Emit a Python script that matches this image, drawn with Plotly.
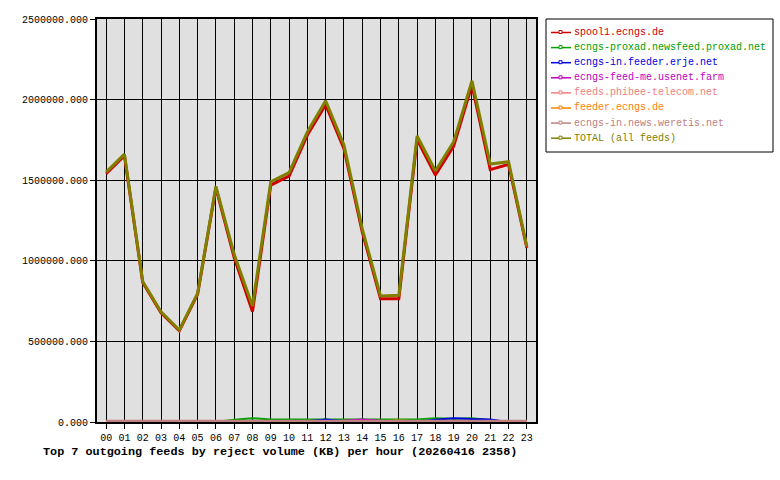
import plotly.graph_objects as go

hours = [f"{h:02d}" for h in range(24)]

spool1 = [1540000, 1652000, 866000, 678000, 566000, 793000, 1453000, 1020000,
          685000, 1470000, 1525000, 1780000, 1968000, 1695000, 1180000, 765000,
          765000, 1752000, 1532000, 1712000, 2090000, 1565000, 1598000, 1080000]
proxad = [0, 0, 0, 0, 0, 0, 0, 14000, 24000, 16000, 16000, 16000, 14000, 16000, 14000, 16000,
          16000, 16000, 24000, 20000, 24000, 12000, 0, 0]
erje = [0, 0, 0, 0, 0, 0, 0, 0, 0, 0, 0, 4000, 16000, 4000, 0, 0,
        0, 0, 14000, 24000, 18000, 16000, 0, 0]
feedme = [0, 0, 0, 0, 0, 0, 0, 0, 0, 0, 0, 0, 0, 8000, 16000, 8000,
          0, 0, 0, 0, 0, 0, 0, 0]
phibee = [3000, 6000, 3000, 3000, 6000, 3000, 6000, 3000, 3000, 3000, 3000, 3000, 3000, 3000, 3000, 3000,
          3000, 3000, 3000, 3000, 3000, 3000, 3000, 3000]
feeder = [0, 0, 0, 0, 0, 0, 0, 0, 0, 0, 0, 0, 0, 0, 0, 4000,
          10000, 4000, 0, 0, 0, 0, 0, 0]
weretis = [4000] * 24
total = [1550000, 1662000, 872000, 684000, 571000, 798000, 1462000, 1040000,
         720000, 1490000, 1547000, 1800000, 1993000, 1718000, 1200000, 782000,
         786000, 1774000, 1557000, 1739000, 2117000, 1600000, 1615000, 1088000]

names = ["spool1.ecngs.de", "ecngs-proxad.newsfeed.proxad.net", "ecngs-in.feeder.erje.net",
         "ecngs-feed-me.usenet.farm", "feeds.phibee-telecom.net", "feeder.ecngs.de",
         "ecngs-in.news.weretis.net", "TOTAL (all feeds)"]
colors = ["#d00000", "#00a000", "#0000e0", "#c000c0", "#f08080", "#ff8000", "#c08080", "#808000"]
series = [spool1, proxad, erje, feedme, phibee, feeder, weretis, total]
widths = [3, 2, 2, 2, 2, 2, 3, 3]

FONT = "Liberation Mono, DejaVu Sans Mono, monospace"

# plot area in pixels
L, R, T, B = 97, 536, 19, 422


def px(x):
    return (x - L) / (R - L)


def py(y):
    return (B - y) / (B - T)


fig = go.Figure()
for nm, col, vals, w in zip(names, colors, series, widths):
    fig.add_trace(go.Scatter(
        x=list(range(24)), y=vals, mode="lines", name=nm,
        line=dict(color=col, width=w), showlegend=False,
    ))

shapes = [dict(type="rect", xref="paper", yref="paper",
               x0=px(546), x1=px(773), y0=py(19), y1=py(152),
               line=dict(color="black", width=1), fillcolor="white", layer="above")]
annotations = []
for i, (nm, col) in enumerate(zip(names, colors)):
    yc = 32.5 + i * 15.1
    shapes.append(dict(type="line", xref="paper", yref="paper",
                       x0=px(551), x1=px(571), y0=py(yc), y1=py(yc),
                       line=dict(color=col, width=1.5), layer="above"))
    shapes.append(dict(type="rect", xref="paper", yref="paper",
                       x0=px(559), x1=px(562), y0=py(yc - 2), y1=py(yc + 1),
                       line=dict(color=col, width=1), fillcolor="white", layer="above"))
    annotations.append(dict(text=nm, xref="paper", yref="paper", x=px(572), y=py(yc),
                            xanchor="left", yanchor="middle", showarrow=False,
                            font=dict(family=FONT, size=10, color=col)))

annotations.append(dict(text="<b>Top 7 outgoing feeds by reject volume (KB) per hour (20260416 2358)</b>",
                        xref="paper", yref="paper", x=px(41), y=py(452), xanchor="left", yanchor="middle",
                        showarrow=False, font=dict(family=FONT, size=11.8, color="black")))

fig.update_layout(
    width=780, height=480,
    margin=dict(l=L, r=780 - R, t=T, b=480 - B, autoexpand=False),
    paper_bgcolor="white", plot_bgcolor="#e0e0e0",
    font=dict(family=FONT, size=10, color="black"),
    showlegend=False,
    xaxis=dict(range=[-0.5, 23.5], tickmode="array", tickvals=list(range(24)), ticktext=hours,
               showgrid=True, gridcolor="black", gridwidth=1, zeroline=False,
               showline=True, linecolor="black", linewidth=2, mirror=True,
               ticks="outside", ticklen=5, tickcolor="black",
               tickfont=dict(family=FONT, size=10)),
    yaxis=dict(range=[0, 2500000], tickmode="array",
               tickvals=[0, 500000, 1000000, 1500000, 2000000, 2500000],
               ticktext=["0.000", "500000.000", "1000000.000", "1500000.000", "2000000.000", "2500000.000"],
               showgrid=True, gridcolor="black", gridwidth=1, zeroline=False,
               showline=True, linecolor="black", linewidth=2, mirror=True,
               ticks="outside", ticklen=5, tickcolor="black",
               tickfont=dict(family=FONT, size=10)),
    shapes=shapes,
    annotations=annotations,
)

fig.write_html("out.html", config={"displayModeBar": False},
               post_script="document.body.style.margin='0px';document.body.style.overflow='hidden';")
